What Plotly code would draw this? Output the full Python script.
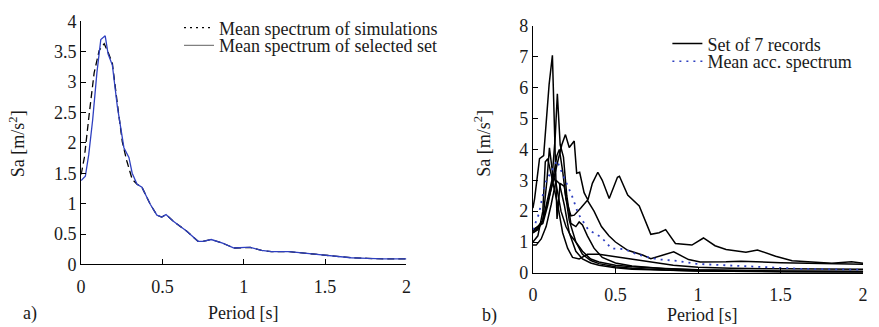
import plotly.graph_objects as go

# ---------------- Panel a) data ----------------
T_sel = [0, 0.026, 0.047, 0.071, 0.097, 0.121, 0.148, 0.166, 0.192, 0.223, 0.263, 0.294, 0.314, 0.344,
         0.374, 0.425, 0.466, 0.496, 0.522, 0.567, 0.648, 0.719, 0.749, 0.8, 0.87, 0.94, 1.01, 1.04,
         1.11, 1.17, 1.28, 1.36, 1.44, 1.56, 1.66, 1.76, 1.86, 2.0]
Sa_sel = [1.38, 1.45, 1.81, 2.38, 3.15, 3.70, 3.76, 3.46, 3.28, 2.59, 1.92, 1.76, 1.50, 1.32,
          1.27, 0.99, 0.81, 0.78, 0.82, 0.71, 0.55, 0.38, 0.38, 0.41, 0.35, 0.27, 0.28, 0.28,
          0.23, 0.21, 0.21, 0.19, 0.165, 0.13, 0.11, 0.10, 0.09, 0.09]

T_sim = [0, 0.02, 0.05, 0.08, 0.111, 0.142, 0.166, 0.192, 0.223, 0.253, 0.28, 0.314, 0.344,
         0.374, 0.425, 0.466, 0.496, 0.522, 0.567, 0.648, 0.719, 0.749, 0.8, 0.87, 0.94, 1.01, 1.04,
         1.11, 1.17, 1.28, 1.36, 1.44, 1.56, 1.66, 1.76, 1.86, 2.0]
Sa_sim = [1.48, 1.76, 2.48, 3.15, 3.52, 3.63, 3.49, 3.31, 2.64, 2.02, 1.71, 1.40, 1.32,
          1.27, 0.99, 0.81, 0.78, 0.82, 0.71, 0.55, 0.38, 0.38, 0.41, 0.35, 0.27, 0.28, 0.28,
          0.23, 0.21, 0.21, 0.19, 0.165, 0.13, 0.11, 0.10, 0.09, 0.09]

# ---------------- Panel b) data ----------------
T_r1 = [0, 0.01, 0.04, 0.065, 0.098, 0.118, 0.146, 0.165, 0.19, 0.22, 0.26, 0.3, 0.35, 0.4, 0.5, 0.6, 0.8, 1.0, 1.5, 2.0]
Sa_r1 = [2.1, 2.4, 3.7, 3.8, 6.1, 7.05, 1.75, 2.9, 2.8, 1.7, 1.0, 0.6, 0.4, 0.3, 0.2, 0.15, 0.09, 0.06, 0.04, 0.03]

T_r2 = [0, 0.03, 0.06, 0.09, 0.115, 0.135, 0.148, 0.165, 0.185, 0.205, 0.23, 0.26, 0.28, 0.3, 0.33, 0.37,
        0.42, 0.5, 0.6, 0.8, 1.0, 1.5, 2.0]
Sa_r2 = [1.3, 1.45, 1.7, 2.4, 3.0, 4.4, 5.8, 4.15, 3.75, 2.5, 1.6, 1.5, 1.65, 1.55, 1.2, 0.8,
         0.5, 0.32, 0.22, 0.13, 0.09, 0.05, 0.04]

T_r3 = [0, 0.03, 0.06, 0.09, 0.12, 0.15, 0.175, 0.197, 0.22, 0.25, 0.265, 0.283, 0.31, 0.333, 0.36,
        0.393, 0.42, 0.462, 0.512, 0.524, 0.574, 0.644, 0.714, 0.764, 0.804, 0.863, 0.963, 1.033,
        1.103, 1.17, 1.29, 1.36, 1.47, 1.57, 1.67, 1.81, 1.93, 2.0]
Sa_r3 = [1.35, 1.5, 1.7, 2.3, 2.9, 3.6, 4.15, 4.48, 4.06, 4.27, 3.23, 3.26, 2.6, 2.36, 2.9,
         3.26, 3.0, 2.41, 3.1, 3.13, 2.52, 2.17, 1.25, 1.3, 1.4, 0.95, 0.9, 1.13,
         0.88, 0.76, 0.67, 0.74, 0.54, 0.39, 0.36, 0.31, 0.36, 0.31]

T_r4 = [0, 0.03, 0.06, 0.09, 0.12, 0.145, 0.16, 0.18, 0.2, 0.23, 0.25, 0.29, 0.33, 0.37, 0.415,
        0.46, 0.5, 0.574, 0.664, 0.714, 0.793, 0.853, 0.943, 1.013, 1.17, 1.26, 1.5, 1.75, 2.0]
Sa_r4 = [1.4, 1.5, 1.6, 2.2, 3.0, 3.8, 4.0, 3.3, 2.4, 1.85, 1.87, 2.1, 2.35, 2.0, 1.5,
         1.2, 1.0, 0.73, 0.58, 0.46, 0.58, 0.68, 0.43, 0.35, 0.36, 0.38, 0.33, 0.3, 0.28]

T_r5 = [0, 0.03, 0.06, 0.075, 0.09, 0.12, 0.15, 0.18, 0.21, 0.24, 0.28, 0.33, 0.4, 0.45, 0.55,
        0.7, 0.85, 1.0, 1.2, 1.5, 2.0]
Sa_r5 = [1.0, 1.2, 2.0, 3.6, 3.7, 3.0, 2.2, 1.3, 0.8, 0.5, 0.45, 0.6, 0.6, 0.56, 0.48,
         0.35, 0.25, 0.18, 0.15, 0.13, 0.12]

T_r6 = [0, 0.02, 0.05, 0.08, 0.11, 0.14, 0.16, 0.19, 0.22, 0.26, 0.3, 0.35, 0.4, 0.5, 0.6, 0.8, 1.0, 1.5, 2.0]
Sa_r6 = [0.9, 0.9, 1.1, 1.5, 2.2, 3.0, 2.9, 2.2, 1.3, 0.7, 0.45, 0.32, 0.25, 0.17, 0.12, 0.08, 0.06, 0.04, 0.03]

T_r7 = [0, 0.03, 0.06, 0.085, 0.1, 0.12, 0.14, 0.17, 0.2, 0.23, 0.26, 0.3, 0.35, 0.4, 0.5, 0.6, 0.8, 1.0, 1.5, 2.0]
Sa_r7 = [1.3, 1.4, 1.7, 3.0, 4.05, 3.2, 2.9, 2.0, 1.5, 1.2, 1.0, 0.7, 0.45, 0.35, 0.25, 0.2, 0.14, 0.1, 0.06, 0.05]

T_mean = [0, 0.036, 0.076, 0.106, 0.146, 0.185, 0.235, 0.275, 0.335, 0.415, 0.475, 0.554, 0.634,
          0.754, 0.873, 0.993, 1.23, 1.43, 1.63, 2.0]
Sa_mean = [1.4, 1.91, 2.93, 3.24, 3.64, 3.13, 2.52, 1.91, 1.4, 1.15, 0.79, 0.77, 0.59,
           0.44, 0.39, 0.29, 0.23, 0.2, 0.13, 0.10]

records = [(T_r1, Sa_r1), (T_r2, Sa_r2), (T_r3, Sa_r3), (T_r4, Sa_r4),
           (T_r5, Sa_r5), (T_r6, Sa_r6), (T_r7, Sa_r7)]

x_ticks = [0, 0.5, 1, 1.5, 2]
y_ticks_a = [0, 0.5, 1, 1.5, 2, 2.5, 3, 3.5, 4]
y_ticks_b = [0, 1, 2, 3, 4, 5, 6, 7, 8]

FONT = "'Liberation Serif', 'Times New Roman', Times, serif"
FS = 18
TFS = 18
BLUE = "#2f40c0"
TXT = "#1a1a1a"

W, H = 879, 327
def px(x):
    return x / W
def py(y):
    return 1 - y / H

fig = go.Figure()

# Panel a
fig.add_trace(go.Scatter(x=T_sim, y=Sa_sim, mode="lines", xaxis="x", yaxis="y",
                         line=dict(color="black", width=1.3, dash="7px,4px"), showlegend=False))
fig.add_trace(go.Scatter(x=T_sel, y=Sa_sel, mode="lines", xaxis="x", yaxis="y",
                         line=dict(color=BLUE, width=1.3), showlegend=False))
# legend entries for panel a
fig.add_trace(go.Scatter(x=[None], y=[None], mode="lines", xaxis="x", yaxis="y",
                         line=dict(color="black", width=1.3, dash="2px,4px"),
                         name="Mean spectrum of simulations", legend="legend"))
fig.add_trace(go.Scatter(x=[None], y=[None], mode="lines", xaxis="x", yaxis="y",
                         line=dict(color="#808080", width=1.3),
                         name="Mean spectrum of selected set", legend="legend2"))

# Panel b
for T, S in records:
    fig.add_trace(go.Scatter(x=T, y=S, mode="lines", xaxis="x2", yaxis="y2",
                             line=dict(color="black", width=1.5), showlegend=False))
fig.add_trace(go.Scatter(x=T_mean, y=Sa_mean, mode="lines", xaxis="x2", yaxis="y2",
                         line=dict(color=BLUE, width=1.8, dash="2px,5px"), showlegend=False))
fig.add_trace(go.Scatter(x=[None], y=[None], mode="lines", xaxis="x2", yaxis="y2",
                         line=dict(color="black", width=1.5),
                         name="Set of 7 records", legend="legend3"))
fig.add_trace(go.Scatter(x=[None], y=[None], mode="lines", xaxis="x2", yaxis="y2",
                         line=dict(color=BLUE, width=1.5, dash="2px,5px"),
                         name="Mean acc. spectrum", legend="legend4"))

axis_common = dict(showline=True, linecolor="black", linewidth=1, ticks="inside", ticklen=5,
                   tickcolor="black", tickwidth=1, showgrid=False, zeroline=False,
                   tickfont=dict(family=FONT, size=TFS, color=TXT), fixedrange=True)

fig.update_layout(
    width=W, height=H, margin=dict(l=0, r=0, t=0, b=0),
    paper_bgcolor="white", plot_bgcolor="white",
    font=dict(family=FONT, size=FS, color=TXT),
    xaxis=dict(domain=[px(77), px(406)], range=[0, 2], tickvals=x_ticks, anchor="y",
               ticklabelstandoff=6, **axis_common),
    yaxis=dict(domain=[py(271), py(12)], range=[0, 4], tickvals=y_ticks_a, anchor="x", **axis_common),
    xaxis2=dict(domain=[px(534), px(868)], range=[0, 2], tickvals=x_ticks, anchor="y2",
                ticklabelstandoff=6, **axis_common),
    yaxis2=dict(domain=[py(280), py(17)], range=[0, 8], tickvals=y_ticks_b, anchor="x2", **axis_common),
)

leg_common = dict(bgcolor="rgba(0,0,0,0)", borderwidth=0, xanchor="left", yanchor="middle",
                  font=dict(family=FONT, size=FS, color=TXT), itemclick=False, itemdoubleclick=False)
fig.update_layout(
    legend=dict(x=px(176), y=py(19), **leg_common),
    legend2=dict(x=px(176), y=py(38), **leg_common),
    legend3=dict(x=px(670), y=py(36), **leg_common),
    legend4=dict(x=px(670), y=py(55), **leg_common),
)

ann = [
    dict(text="a)", x=px(25), y=py(323)),
    dict(text="b)", x=px(490), y=py(325)),
    dict(text="Period [s]", x=px(241), y=py(323)),
    dict(text="Period [s]", x=px(706), y=py(325)),
    dict(text="Sa [m/s<sup>2</sup>]", x=px(12), y=py(142), textangle=-90),
    dict(text="Sa [m/s<sup>2</sup>]", x=px(483), y=py(142), textangle=-90),
]
for a in ann:
    fig.add_annotation(xref="paper", yref="paper", showarrow=False,
                       xanchor="center", yanchor="middle",
                       font=dict(family=FONT, size=FS, color=TXT), **a)

fig.write_html("out.html")
